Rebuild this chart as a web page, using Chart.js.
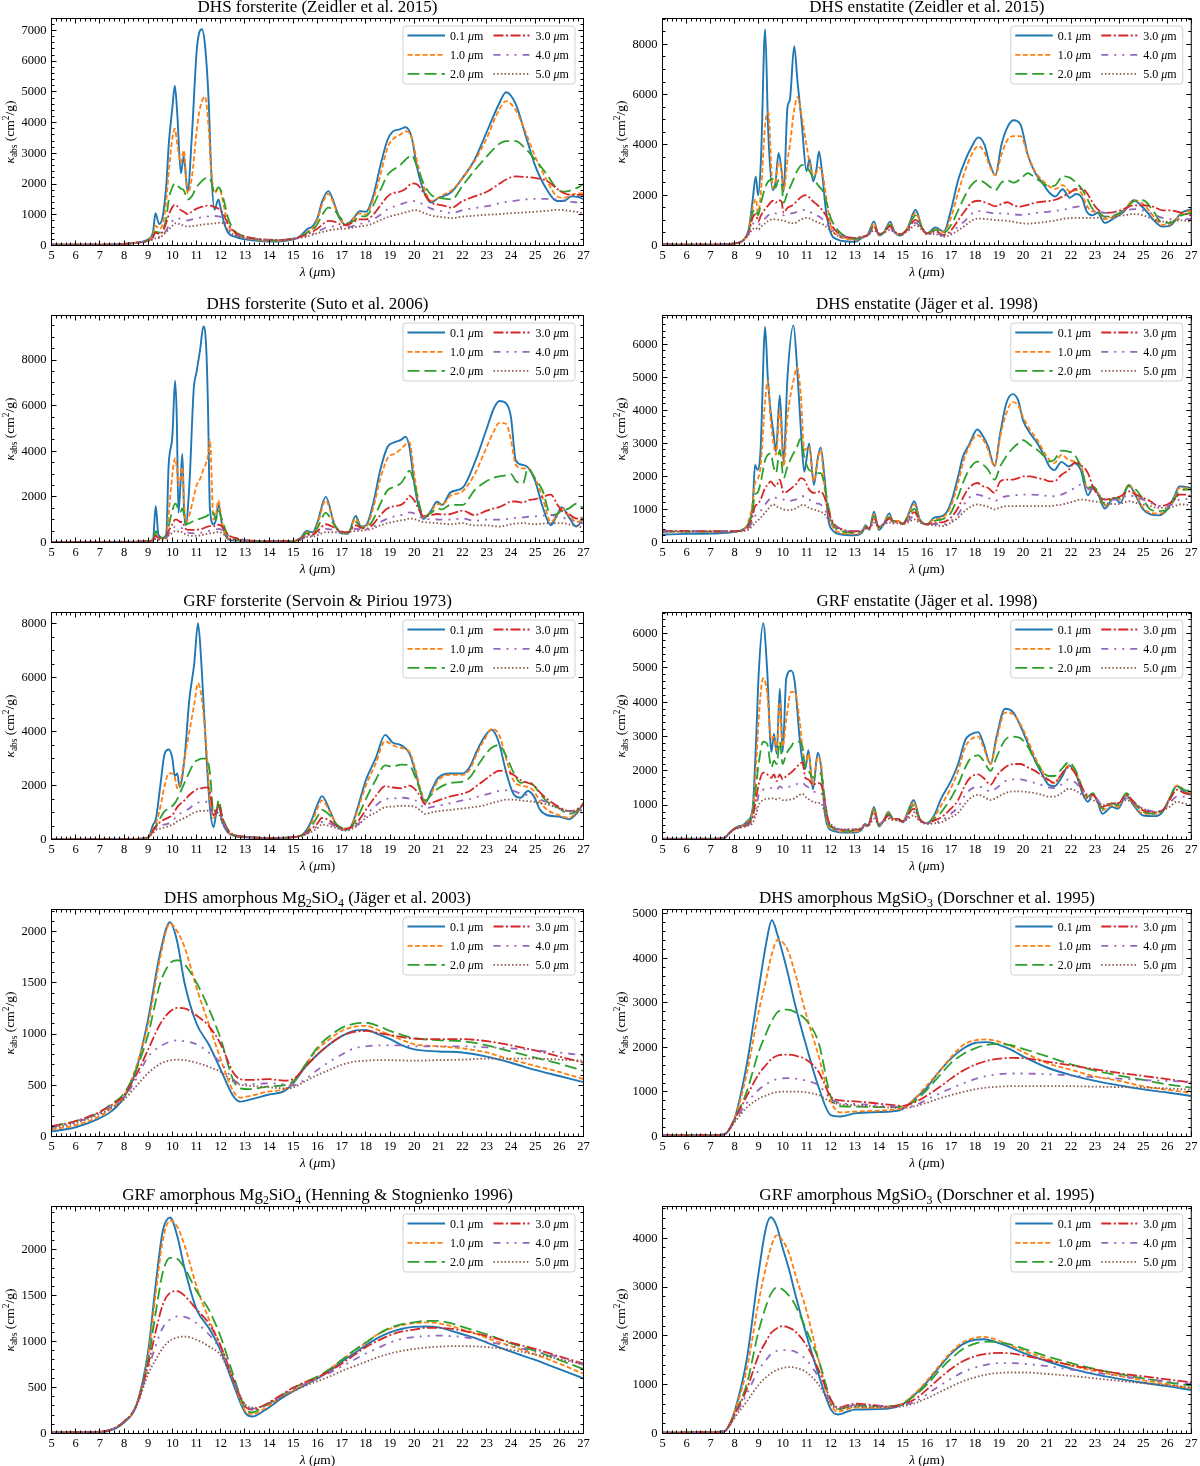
<!DOCTYPE html>
<html><head><meta charset="utf-8">
<script src="https://cdn.jsdelivr.net/npm/chart.js@4/dist/chart.umd.min.js"></script>
<style>
html,body{margin:0;padding:0;background:#fff;}
body{width:1200px;height:1466px;position:relative;overflow:hidden;}
canvas{position:absolute;}
</style></head><body>
<script>
// ---------- DATA ----------
const SIZE_LABELS = ['0.1', '1.0', '2.0', '3.0', '4.0', '5.0'];
const TITLES = [
  'DHS forsterite (Zeidler et al. 2015)',
  'DHS enstatite (Zeidler et al. 2015)',
  'DHS forsterite (Suto et al. 2006)',
  'DHS enstatite (Jäger et al. 1998)',
  'GRF forsterite (Servoin & Piriou 1973)',
  'GRF enstatite (Jäger et al. 1998)',
  'DHS amorphous Mg_2SiO_4 (Jäger et al. 2003)',
  'DHS amorphous MgSiO_3 (Dorschner et al. 1995)',
  'GRF amorphous Mg_2SiO_4 (Henning & Stognienko 1996)',
  'GRF amorphous MgSiO_3 (Dorschner et al. 1995)'
];
const X_TICKS = [5,6,7,8,9,10,11,12,13,14,15,16,17,18,19,20,21,22,23,24,25,26,27];
const Y_TICKS = [
  [0,1000,2000,3000,4000,5000,6000,7000],
  [0,2000,4000,6000,8000],
  [0,2000,4000,6000,8000],
  [0,1000,2000,3000,4000,5000,6000],
  [0,2000,4000,6000,8000],
  [0,1000,2000,3000,4000,5000,6000],
  [0,500,1000,1500,2000],
  [0,1000,2000,3000,4000,5000],
  [0,500,1000,1500,2000],
  [0,1000,2000,3000,4000]
];
const Y_MAX = [7390, 9030, 9960, 6870, 8420, 6615, 2215, 5100, 2470, 4650];

// Panel 1: DHS forsterite (Zeidler 2015)
const P1_WL = [5,6,7,7.5,8,8.5,9.0,9.2,9.3,9.45,9.6,9.75,9.85,10.0,10.1,10.2,10.35,10.47,10.63,10.8,11.0,11.1,11.22,11.35,11.5,11.6,11.74,11.9,12.0,12.15,12.3,12.6,13.0,13.5,14.0,14.5,15.0,15.3,15.6,15.8,16.0,16.2,16.45,16.7,16.9,17.2,17.5,17.75,18.0,18.3,18.6,18.9,19.1,19.4,19.65,19.9,20.1,20.4,20.7,21.0,21.2,21.55,22.0,22.5,23.0,23.5,23.8,24.2,24.6,25.0,25.5,25.9,26.2,26.5,26.8,27];
const P1_S01 = [30,25,25,30,50,90,200,450,1050,700,950,2000,3300,4500,5200,4300,2350,2900,1750,3500,6300,6900,7040,6500,4700,2500,1160,1500,1200,700,420,280,200,150,130,140,200,320,550,620,900,1450,1770,1350,900,670,900,1120,1100,1600,2600,3450,3700,3780,3850,3500,2600,1750,1400,1550,1600,1750,2200,2800,3700,4600,4990,4600,3600,2600,1800,1450,1450,1600,1580,1500];
const P1_S10 = [30,25,25,30,50,90,180,350,650,550,700,1500,2400,3500,3800,3300,2700,3100,1700,2200,3700,4300,4700,4850,3800,2500,1700,1850,1750,1200,700,400,260,180,150,160,210,300,450,550,850,1350,1680,1300,900,700,880,1050,1000,1500,2300,3200,3450,3600,3720,3500,2800,1900,1450,1550,1650,1800,2200,2750,3500,4400,4700,4400,3700,2900,2100,1600,1550,1650,1700,1700];
const P1_S20 = [30,25,25,30,50,90,170,300,450,420,500,900,1500,1900,2020,1950,1850,1800,1500,1600,1900,2000,2100,2180,2200,2100,1700,1900,1800,1400,900,450,290,200,170,170,220,290,430,500,700,1000,1230,1150,950,720,800,950,950,1300,1800,2300,2450,2600,2800,2940,2600,2000,1650,1560,1530,1500,1950,2450,2900,3300,3400,3400,3150,2800,2300,1850,1750,1800,1900,2000];
const P1_S30 = [30,25,25,30,50,90,160,270,420,380,450,750,1000,1250,1330,1280,1150,1100,1020,1100,1200,1230,1260,1290,1300,1300,1250,1200,1150,950,700,420,300,220,190,180,220,280,380,450,550,680,800,780,700,660,780,850,850,1000,1300,1600,1700,1750,1850,2020,2000,1700,1400,1330,1300,1230,1450,1600,1750,2000,2150,2250,2230,2200,2100,1850,1700,1650,1650,1650];
const P1_S40 = [30,25,25,30,50,90,150,230,280,280,350,500,650,800,870,880,870,860,820,850,880,900,920,940,950,960,960,950,930,800,550,350,260,200,180,180,210,260,320,380,450,530,610,620,610,600,640,700,750,850,1000,1180,1250,1330,1400,1450,1430,1330,1200,1140,1100,1060,1150,1220,1280,1370,1420,1460,1500,1520,1520,1500,1470,1420,1400,1380];
const P1_S50 = [30,25,25,30,50,90,140,200,230,250,330,450,520,650,720,720,680,650,620,630,650,660,680,690,700,710,720,740,750,680,500,330,240,200,180,180,210,250,300,350,400,440,490,520,540,550,590,620,650,720,830,920,970,1030,1080,1140,1150,1060,980,940,920,890,940,970,1000,1020,1040,1060,1080,1100,1130,1160,1150,1120,1080,1040];

// Panel 2: DHS enstatite (Zeidler 2015)
const P2_WL = [5,7,8,8.4,8.6,8.75,8.88,8.98,9.1,9.27,9.4,9.59,9.7,9.83,9.95,10.04,10.2,10.3,10.48,10.62,10.8,10.99,11.12,11.27,11.4,11.51,11.65,11.8,12.0,12.3,12.7,13.0,13.3,13.55,13.8,14.0,14.2,14.47,14.65,14.9,15.2,15.53,15.8,16.0,16.36,16.7,17.0,17.3,17.6,17.85,18.14,18.4,18.6,18.85,19.1,19.35,19.6,19.9,20.2,20.5,20.8,21.1,21.35,21.65,21.95,22.2,22.45,22.65,22.9,23.1,23.4,23.8,24.2,24.6,25.0,25.4,25.8,26.1,26.6,27];
const P2_S01 = [40,30,80,250,700,1800,2750,2000,3500,8600,4500,2200,2500,3680,3000,2150,5500,5800,7930,6500,4800,2950,3440,2550,3000,3740,2800,1400,500,230,160,150,300,450,960,400,500,950,550,400,700,1420,700,480,720,550,1400,2600,3400,3900,4300,4000,3300,2800,4000,4700,4980,4800,3600,2900,2500,2100,1950,2240,1900,2050,1900,1350,1200,1300,900,1100,1350,1800,1500,1050,750,780,1300,1450];
const P2_S10 = [40,30,80,250,650,1500,1850,1300,2200,4800,5300,2300,2500,3300,3000,2200,3400,4000,5400,5900,5100,4000,3300,2800,2900,3100,2900,2000,800,400,250,220,320,450,880,420,500,880,560,420,700,1300,700,480,650,530,1100,2100,3000,3600,3950,3700,3200,2800,3600,4200,4350,4350,3600,2950,2600,2350,2250,2400,2150,2200,2050,1600,1350,1350,1050,1150,1400,1800,1650,1200,820,850,1250,1400];
const P2_S20 = [40,30,80,250,600,1300,1450,1200,1700,2300,2550,2650,2300,2600,2500,1700,2100,2300,2700,3000,3200,3150,2950,2700,2500,2350,2200,1800,1100,600,320,260,330,430,800,450,520,820,560,430,680,1200,700,480,620,500,800,1400,2000,2400,2600,2500,2350,2200,2500,2600,2500,2650,2880,2700,2500,2350,2400,2750,2700,2500,2250,1900,1450,1350,1150,1200,1400,1750,1800,1400,900,900,1200,1300];
const P2_S30 = [40,30,80,250,550,1100,1250,950,1200,1450,1600,1780,1700,1800,1750,1300,1500,1550,1650,1800,1950,2000,1900,1750,1650,1550,1400,1200,850,500,330,300,350,420,750,470,520,760,560,450,650,1020,680,480,560,420,600,1000,1400,1700,1780,1720,1650,1560,1650,1720,1600,1550,1620,1700,1740,1770,1820,1950,2100,2250,2250,2100,1700,1450,1300,1330,1450,1600,1600,1550,1400,1400,1300,1200];
const P2_S40 = [40,30,80,240,500,850,900,800,950,1080,1200,1300,1280,1250,1230,1200,1250,1270,1300,1350,1400,1420,1350,1250,1200,1150,1050,900,700,450,320,300,350,420,650,480,520,680,540,450,600,900,650,460,500,380,500,750,1000,1250,1370,1340,1310,1270,1280,1270,1240,1220,1240,1290,1320,1350,1380,1420,1480,1540,1560,1500,1400,1350,1300,1320,1380,1450,1400,1250,1100,1050,1050,1050];
const P2_S50 = [40,30,80,230,450,650,700,620,750,880,980,1050,1040,1020,1000,990,930,900,880,950,1050,1100,1080,1000,950,900,850,750,600,380,300,290,340,400,600,480,500,620,520,440,570,800,620,450,450,350,430,600,800,980,1070,1060,1040,1010,1000,980,940,890,870,890,920,960,1000,1060,1090,1100,1100,1100,1100,1110,1130,1160,1200,1250,1200,1050,950,950,1000,950];

// Panel 3: DHS forsterite (Suto 2006)
const P3_WL = [5,7,8.5,9.0,9.2,9.31,9.42,9.6,9.75,9.84,10.0,10.11,10.18,10.25,10.33,10.41,10.48,10.55,10.7,10.88,11.0,11.15,11.28,11.4,11.47,11.55,11.7,11.8,11.9,12.05,12.3,12.6,13.0,14.0,15.0,15.3,15.55,15.8,16.0,16.34,16.7,17.0,17.25,17.58,17.8,18.0,18.3,18.6,18.9,19.2,19.45,19.64,19.8,20.0,20.2,20.38,20.7,20.94,21.15,21.5,22.0,22.5,23.0,23.3,23.52,23.8,24.0,24.2,24.5,24.7,25.0,25.3,25.65,25.9,26.1,26.4,26.7,27];
const P3_S01 = [20,20,30,60,150,1600,350,200,400,3300,4700,7100,5500,1300,2500,3880,1500,760,2500,6700,7500,8500,9480,8500,6000,1500,800,1000,1700,800,150,80,60,40,60,200,510,450,900,2000,800,400,380,1160,700,750,1700,3200,4200,4400,4500,4640,4200,2600,1500,1030,1400,1790,1650,2200,2400,3500,5000,5900,6210,6100,5500,3600,3400,3300,2700,1600,760,1200,1550,1100,700,1050];
const P3_S10 = [20,20,30,60,120,350,200,180,300,1200,3000,3700,3300,2500,2800,3300,1800,900,1200,2000,2500,2800,3200,3500,3800,4500,1000,1200,1850,900,200,100,70,40,60,180,450,400,800,1850,800,420,400,1050,700,700,1500,2800,3700,3900,4100,4300,4400,3000,1700,1100,1350,1700,1650,2050,2250,3000,4200,4900,5250,5200,4500,3400,3250,3250,2800,2000,900,1200,1500,1200,900,1000];
const P3_S20 = [20,20,30,60,110,500,250,200,300,700,1400,1700,1650,1400,1350,1500,1200,800,850,950,1000,1050,1100,1150,1200,1350,1300,1000,1400,1000,300,150,90,50,60,170,400,380,650,1300,750,450,420,900,680,650,1000,1700,2300,2450,2600,2900,3150,2600,1700,1150,1300,1500,1450,1650,1650,2300,2700,2850,2900,2950,3000,2700,2600,3250,2800,2300,1200,1250,1400,1500,1700,1500];
const P3_S30 = [20,20,30,60,100,300,200,180,250,500,800,1000,1000,950,900,900,750,600,550,550,560,580,620,680,700,720,730,700,780,700,350,200,110,60,70,150,330,340,500,800,650,480,450,750,650,600,800,1200,1500,1600,1650,1800,2050,1850,1450,1150,1200,1250,1230,1250,1400,1200,1400,1500,1550,1700,1800,1800,1750,1850,1900,2000,2100,1700,1400,1250,1050,1100];
const P3_S40 = [20,20,30,60,90,200,150,150,200,350,550,700,700,680,650,620,550,480,420,400,400,420,450,480,500,520,540,560,600,550,250,150,100,60,70,130,280,300,400,600,550,480,470,600,580,580,700,900,1050,1150,1200,1250,1320,1280,1150,1050,1020,1010,1000,1000,1050,950,1000,1000,1000,1030,1050,1080,1100,1130,1150,1180,1200,1150,1100,1000,900,850];
const P3_S50 = [20,20,30,60,80,150,120,120,180,300,420,500,500,480,470,450,400,350,300,290,290,310,340,370,390,400,420,440,460,420,200,130,90,60,70,120,240,260,320,450,450,450,460,500,520,540,620,750,850,920,970,1000,1050,1030,960,900,870,850,830,800,850,750,750,720,700,750,800,830,850,830,800,830,850,850,850,800,720,650];

// Panel 4: DHS enstatite (Jäger 1998)
const P4_WL = [5,6,7,8,8.4,8.6,8.75,8.85,8.95,9.08,9.27,9.38,9.5,9.62,9.72,9.88,10.04,10.2,10.45,10.6,10.75,10.9,11.1,11.3,11.45,11.58,11.75,11.9,12.1,12.4,13.0,13.3,13.45,13.6,13.8,14.0,14.2,14.43,14.6,14.8,15.0,15.2,15.48,15.7,16.0,16.3,16.7,17.0,17.3,17.5,17.75,18.1,18.35,18.55,18.82,19.05,19.3,19.57,19.8,20.0,20.3,20.6,20.9,21.1,21.3,21.6,21.9,22.15,22.4,22.7,22.9,23.1,23.4,23.8,24.05,24.4,24.7,25.0,25.3,25.65,26.0,26.3,26.5,26.75,27];
const P4_S01 = [240,260,270,320,420,600,1100,2350,2200,2800,6520,5000,3960,3300,2750,4460,2440,5000,6570,5300,3500,2140,3000,1740,2500,2880,1900,700,350,250,220,300,520,380,930,380,550,880,650,650,550,800,1250,700,550,750,820,1200,2000,2600,2950,3420,3200,2900,2320,3300,4200,4490,4300,3700,3300,3000,2600,2300,2190,2440,2300,2400,2200,1430,1650,1500,1030,1350,1200,1740,1400,1000,850,820,1000,1400,1700,1680,1650];
const P4_S10 = [330,330,330,340,400,700,1200,1800,1900,2300,4300,4900,3700,3000,2650,4000,2300,3800,4900,5300,4500,2800,2900,1850,2500,2800,1600,900,450,300,260,320,500,400,860,420,560,820,650,650,560,780,1150,700,550,700,780,1100,1800,2400,2900,3250,3100,2800,2300,3200,3900,4250,4150,3800,3400,3100,2700,2500,2400,2650,2500,2450,2350,1600,1700,1550,1100,1350,1300,1750,1450,1050,900,870,1000,1350,1650,1650,1600];
const P4_S20 = [330,330,330,340,400,600,1000,1450,1500,1800,2500,2650,2700,2300,2100,2800,1950,2300,2700,2900,3150,2600,2200,2150,2100,2100,1700,1100,550,350,300,340,480,420,800,450,560,770,650,640,570,750,1020,690,550,650,720,900,1400,1800,2200,2450,2350,2200,1900,2300,2600,2850,3000,3100,2950,2800,2600,2450,2500,2780,2750,2650,2300,1650,1700,1550,1150,1350,1350,1700,1600,1300,1000,950,1000,1300,1550,1600,1600];
const P4_S30 = [350,350,340,340,380,500,800,1100,1150,1300,1650,1750,1850,1750,1700,1900,1500,1550,1700,1800,1950,1900,1600,1500,1520,1550,1350,950,600,420,340,360,450,430,750,480,560,720,630,620,570,700,920,670,550,600,620,750,1050,1350,1650,1800,1700,1650,1500,1850,1900,1900,1950,2000,2000,1950,1900,1850,1850,2050,2200,2420,2350,2100,1700,1450,1300,1350,1400,1550,1450,1350,1250,1100,1150,1300,1450,1450,1400];
const P4_S40 = [340,340,340,340,370,450,650,800,850,950,1150,1250,1350,1380,1350,1320,1300,1250,1280,1320,1400,1400,1300,1200,1180,1150,1000,800,550,400,340,360,430,430,670,480,550,660,600,600,560,650,800,630,550,560,550,650,850,1100,1350,1450,1400,1350,1250,1350,1400,1420,1440,1450,1450,1440,1420,1400,1400,1450,1550,1650,1750,1650,1550,1450,1320,1300,1320,1450,1350,1300,1200,1100,1100,1200,1300,1320,1300];
const P4_S50 = [330,330,330,330,350,400,500,600,650,750,900,1000,1100,1150,1100,1050,1000,980,1000,1050,1130,1130,1050,1000,960,930,850,700,520,400,330,350,420,420,600,480,540,610,580,580,550,600,700,600,540,520,500,600,750,900,1050,1150,1120,1080,1000,1060,1100,1100,1100,1100,1100,1100,1100,1100,1120,1150,1200,1250,1300,1280,1250,1230,1200,1160,1170,1250,1200,1150,1100,1050,1050,1100,1150,1150,1100];

// Panel 5: GRF forsterite (Servoin & Piriou 1973)
const P5_WL = [5,7,8.5,9.0,9.2,9.32,9.5,9.68,9.85,10.0,10.1,10.2,10.3,10.5,10.7,10.9,11.06,11.2,11.4,11.55,11.7,11.82,11.92,12.05,12.3,12.6,13.0,14.0,15.0,15.4,15.7,16.0,16.18,16.5,16.8,17.13,17.4,17.7,18.0,18.4,18.8,19.1,19.45,19.8,20.05,20.25,20.46,20.7,21.0,21.5,22.0,22.3,22.6,22.9,23.2,23.5,23.8,24.1,24.4,24.7,24.95,25.2,25.5,26.0,26.4,26.7,27];
const P5_S01 = [10,10,20,80,550,780,2000,3180,3340,3000,2350,2450,1950,3000,5200,6500,8020,6500,3200,1200,460,1000,1260,700,250,120,80,50,80,200,600,1300,1610,1100,500,360,500,1300,2200,3000,3880,3600,3500,3200,2500,1800,1360,1800,2300,2450,2450,2700,3300,3800,4070,3600,2500,1700,1550,1800,1600,1100,900,850,750,950,1350];
const P5_S10 = [10,10,20,80,400,600,1200,2000,2450,2450,2300,1900,2000,3000,4000,5000,5800,5300,3500,1500,800,1050,1300,850,300,130,90,55,85,190,500,1150,1450,1050,550,380,500,1200,2000,2800,3650,3500,3400,3250,2600,1900,1400,1700,2200,2400,2400,2600,3200,3700,4100,3900,3000,2200,2000,1950,1800,1400,1100,900,800,1000,1350];
const P5_S20 = [10,10,20,80,350,500,800,1050,1150,1250,1350,1500,1700,2100,2500,2850,2950,3000,3000,2500,1000,1100,1450,900,350,150,100,60,90,180,420,850,1100,900,550,400,480,900,1500,2200,2750,2700,2780,2750,2300,1800,1450,1650,1900,2100,2150,2300,2700,3100,3400,3500,3100,2500,2100,2150,2000,1700,1400,1150,950,1050,1350];
const P5_S30 = [10,10,20,80,320,480,650,750,820,900,1050,1200,1300,1450,1650,1800,1880,1900,1930,1800,900,1050,1300,850,350,160,100,60,90,170,350,600,800,700,500,400,450,700,1100,1600,1980,1930,1900,2000,1850,1600,1300,1350,1450,1600,1700,1800,2000,2200,2400,2550,2520,2400,2200,2100,2000,1750,1500,1200,1050,1100,1300];
const P5_S40 = [10,10,20,80,280,400,500,560,600,700,780,880,950,1050,1150,1300,1370,1400,1400,1300,900,950,1050,750,300,150,100,60,90,160,300,500,650,600,450,350,400,600,900,1250,1500,1520,1550,1520,1450,1300,1150,1200,1250,1350,1450,1500,1580,1650,1720,1800,1820,1800,1700,1650,1580,1480,1380,1150,1050,1050,1100];
const P5_S50 = [10,10,20,80,250,350,400,450,500,550,600,680,720,800,900,1000,1050,1060,1070,1080,1100,1000,950,650,300,150,100,60,90,150,260,420,550,500,420,330,380,550,800,1000,1200,1220,1250,1250,1200,1080,950,1000,1050,1100,1150,1180,1220,1270,1350,1420,1480,1480,1450,1420,1400,1350,1300,1150,1050,1000,1000];

// Panel 6: GRF enstatite (Jäger 1998)
const P6_WL = [5,7,7.55,7.8,8.0,8.15,8.35,8.55,8.75,8.9,9.0,9.19,9.35,9.53,9.64,9.75,9.88,10.0,10.15,10.35,10.5,10.7,10.82,10.94,11.07,11.26,11.46,11.6,11.75,11.9,12.1,12.5,13.0,13.3,13.42,13.55,13.8,14.0,14.2,14.4,14.6,14.8,15.0,15.2,15.45,15.7,16.0,16.3,16.6,17.0,17.3,17.6,17.8,18.14,18.35,18.65,18.9,19.25,19.6,19.9,20.2,20.5,20.8,21.05,21.3,21.6,21.9,22.2,22.5,22.7,22.9,23.1,23.3,23.7,23.95,24.3,24.6,25.0,25.5,25.8,26.1,26.4,26.7,27];
const P6_S01 = [20,20,40,200,320,380,420,550,900,3000,4800,6300,5000,2550,3080,2500,4400,2550,4700,4920,4600,3000,2300,2060,2600,1460,2530,2100,800,350,250,200,200,300,450,400,950,380,550,800,600,600,500,800,1150,600,480,700,1200,1700,2200,2900,3050,3130,2800,2200,3000,3810,3700,3300,2800,2300,1900,1600,1550,1800,2160,1900,1300,1100,1300,1100,750,950,900,1280,1000,700,680,800,1200,1560,1400,1300];
const P6_S10 = [20,20,40,200,320,370,400,520,800,2200,3500,4700,4300,2900,3000,2600,4000,2700,3500,4300,4300,3500,2700,2200,2500,1600,2400,2200,1000,400,300,230,230,320,450,410,900,400,550,780,600,600,520,780,1080,600,480,650,1000,1500,2000,2700,2900,3000,2700,2200,2900,3700,3650,3350,2900,2400,2000,1700,1650,1900,2150,1950,1400,1200,1300,1150,850,1000,950,1300,1050,750,750,820,1200,1580,1450,1350];
const P6_S20 = [20,20,40,200,320,360,390,480,750,1600,2200,2850,2800,2100,2300,2200,2850,2200,2500,2700,2850,2850,2700,2100,2000,1800,1950,1900,1200,500,330,250,250,330,440,410,850,420,550,750,600,600,530,750,1000,600,480,600,800,1200,1600,2100,2350,2450,2300,2000,2400,2900,3000,2950,2700,2300,2000,1850,1850,2050,2250,2000,1450,1250,1350,1150,900,1050,1000,1350,1100,800,750,820,1200,1550,1450,1400];
const P6_S30 = [20,20,40,200,310,350,380,450,650,1200,1600,1950,1900,1800,1900,1700,1900,1750,1850,1950,2050,2200,2250,1800,1750,1600,1650,1600,1100,550,350,280,280,340,430,410,800,440,550,700,600,590,530,700,900,580,480,550,650,900,1150,1600,1800,1900,1800,1600,1850,2100,2200,2200,2100,2000,1850,1750,1650,1900,2100,1900,1450,1300,1300,1150,950,1050,1050,1300,1100,850,800,850,1150,1450,1350,1300];
const P6_S40 = [20,20,40,200,310,340,370,420,550,900,1300,1450,1480,1500,1500,1450,1550,1500,1520,1550,1580,1650,1650,1580,1520,1400,1380,1350,1000,550,350,290,300,340,420,400,700,450,540,650,580,570,520,650,800,560,470,500,550,750,950,1300,1450,1550,1500,1400,1500,1700,1750,1750,1700,1650,1580,1520,1500,1600,1750,1650,1400,1300,1250,1150,1000,1050,1050,1200,1050,900,820,850,1050,1250,1250,1200];
const P6_S50 = [20,20,40,200,300,330,360,400,480,750,1000,1150,1180,1200,1200,1170,1200,1150,1150,1170,1200,1300,1330,1250,1180,1100,1070,1050,800,550,380,300,300,340,400,390,600,450,520,600,560,550,510,600,700,540,450,470,500,650,780,1050,1200,1300,1250,1150,1220,1350,1400,1400,1380,1350,1300,1250,1250,1350,1480,1420,1280,1200,1150,1080,1000,1050,1050,1150,1050,900,800,850,950,1100,1050,1000];

// Panel 7: DHS amorphous Mg2SiO4 (Jäger 2003)
const P7_WL = [5,6,7,7.5,8,8.5,9,9.5,9.9,10.2,10.5,11,11.5,12,12.5,12.8,13.2,14,14.6,15,15.5,16,16.5,17,17.5,18,18.5,19,19.5,20,21,22,23,24,25,26,27];
const P7_S01 = [50,90,180,250,380,650,1150,1800,2090,1900,1500,1100,900,650,400,340,360,410,440,520,680,800,900,980,1030,1040,1000,950,890,850,830,820,780,720,650,590,530];
const P7_S10 = [70,110,200,280,400,680,1100,1750,2080,2000,1850,1450,1100,750,450,380,395,440,460,530,700,850,950,1030,1070,1080,1040,990,940,900,880,860,820,750,690,630,560];
const P7_S20 = [100,150,240,320,420,650,1000,1500,1690,1720,1680,1500,1250,950,560,470,462,490,500,540,700,870,980,1060,1100,1110,1080,1030,990,960,940,930,890,830,770,710,640];
const P7_S30 = [100,150,240,310,400,600,850,1100,1220,1255,1250,1180,1080,900,630,560,552,560,545,560,680,800,900,980,1020,1030,1010,990,970,955,950,950,930,890,840,780,720];
const P7_S40 = [90,140,230,300,380,560,780,880,925,938,930,900,820,720,560,515,510,520,510,500,560,650,730,800,860,880,890,890,890,880,880,880,870,860,840,820,790];
const P7_S50 = [80,130,220,280,360,490,620,710,742,750,745,720,680,630,540,505,495,480,470,480,540,600,650,700,730,740,745,745,742,740,745,750,760,760,760,750,740];

// Panel 8: DHS amorphous MgSiO3 (Dorschner 1995)
const P8_WL = [5,6,7,7.5,7.7,8,8.5,9,9.3,9.55,9.8,10.2,10.5,11,11.5,12,12.4,13,14,14.5,15,15.5,16,16.5,17,17.5,18,18.5,19,19.5,20,21,22,23,24,25,26,27];
const P8_S01 = [20,20,25,40,100,400,1600,3300,4300,4860,4500,3700,3000,2000,1100,480,450,520,550,560,620,850,1100,1450,1750,1970,2100,2120,2060,1950,1800,1550,1380,1250,1150,1060,990,910];
const P8_S10 = [30,30,30,40,100,400,1400,2800,3500,4100,4420,4200,3700,2700,1800,800,540,560,580,600,640,850,1150,1450,1780,2050,2160,2180,2130,2030,1900,1650,1500,1350,1250,1130,1050,980];
const P8_S20 = [30,30,30,40,100,400,1000,1900,2300,2600,2800,2850,2800,2600,2100,900,680,670,660,660,680,800,1050,1350,1650,1850,1980,2060,2080,2050,1970,1800,1620,1480,1370,1270,1170,1100];
const P8_S30 = [30,30,30,40,100,380,900,1400,1600,1750,1820,1840,1820,1720,1450,900,810,790,740,710,690,770,920,1100,1300,1480,1610,1700,1750,1765,1760,1680,1600,1510,1430,1360,1290,1210];
const P8_S40 = [30,30,30,40,100,350,750,1050,1170,1250,1290,1310,1300,1250,1150,850,750,730,700,680,650,700,830,960,1080,1190,1290,1360,1400,1415,1415,1400,1370,1330,1300,1270,1250,1230];
const P8_S50 = [30,30,30,40,100,320,650,850,920,970,1000,1010,1010,990,930,780,725,700,670,650,640,680,760,850,930,1000,1060,1100,1120,1130,1130,1130,1130,1120,1110,1100,1080,1050];

// Panel 9: GRF amorphous Mg2SiO4 (Henning & Stognienko 1996)
const P9_WL = [5,6,7,7.5,8,8.5,9,9.3,9.6,9.9,10.2,10.5,11,11.5,12,12.5,13,13.3,13.8,14.5,15,15.5,16,16.5,17,17.5,18,18.5,19,19.5,20,20.5,21,21.5,22,22.5,23,24,25,26,27];
const P9_S01 = [10,12,15,40,120,300,900,1600,2200,2350,2150,1800,1350,1150,900,550,230,185,250,380,460,530,600,680,780,870,960,1040,1100,1140,1160,1165,1155,1120,1080,1040,990,890,800,700,600];
const P9_S10 = [10,15,20,45,130,300,850,1500,2100,2320,2250,2050,1600,1250,950,600,250,210,270,400,470,540,610,700,800,900,990,1080,1140,1180,1200,1210,1200,1170,1130,1090,1040,950,860,760,650];
const P9_S20 = [10,15,20,45,130,300,800,1300,1750,1910,1900,1800,1550,1350,1050,650,280,230,300,410,490,560,620,700,800,900,990,1080,1150,1190,1210,1225,1225,1200,1160,1120,1080,980,900,800,700];
const P9_S30 = [10,15,20,45,130,300,750,1100,1400,1530,1550,1500,1350,1200,950,600,300,260,310,420,500,560,610,680,760,850,940,1010,1070,1110,1130,1150,1150,1140,1120,1090,1060,990,920,840,760];
const P9_S40 = [10,15,20,45,130,300,700,950,1150,1240,1275,1270,1200,1080,900,600,320,270,300,400,480,540,600,660,730,800,870,930,990,1030,1050,1060,1065,1060,1050,1030,1000,950,890,830,750];
const P9_S50 = [10,15,20,45,130,290,650,800,930,1010,1045,1055,1020,950,850,580,320,280,300,390,460,520,570,620,680,730,780,830,870,900,920,935,945,950,950,948,940,910,860,810,750];

// Panel 10: GRF amorphous MgSiO3 (Dorschner 1995)
const P10_WL = [5,6,6.5,7,7.5,7.6,7.8,8,8.5,9,9.3,9.5,9.75,10,10.3,10.5,11,11.5,12,12.3,12.7,13,14,14.5,15,15.5,16,16.5,17,17.5,18,18.4,19,19.5,20,21,22,23,24,25,26,27];
const P10_S01 = [15,20,30,25,40,50,200,450,1500,3300,4200,4430,4250,3800,3300,2900,2000,1200,500,390,450,490,500,520,600,800,1050,1350,1630,1830,1920,1930,1850,1760,1650,1480,1330,1210,1120,1040,970,890];
const P10_S10 = [15,20,30,25,40,50,200,450,1300,2700,3400,3800,4060,3950,3650,3300,2500,1500,600,450,500,530,530,550,620,820,1080,1380,1660,1870,1960,1980,1900,1800,1700,1530,1390,1280,1180,1090,1010,920];
const P10_S20 = [15,20,30,25,40,50,190,400,1000,2100,2600,2850,2990,2950,2800,2650,2100,1500,700,500,540,570,560,560,610,780,1000,1280,1530,1730,1840,1880,1870,1820,1740,1580,1440,1320,1220,1130,1050,980];
const P10_S30 = [15,20,30,25,40,50,180,380,900,1600,1880,2050,2150,2200,2160,2100,1800,1300,700,530,580,610,570,550,600,700,900,1120,1320,1480,1580,1625,1650,1640,1600,1500,1400,1310,1230,1170,1110,1050];
const P10_S40 = [15,20,30,25,40,50,170,350,800,1300,1500,1620,1690,1710,1700,1680,1500,1150,650,520,560,580,560,540,580,650,800,970,1120,1260,1350,1400,1440,1440,1430,1380,1310,1240,1180,1120,1070,1020];
const P10_S50 = [15,20,30,25,40,50,160,320,650,1000,1150,1230,1300,1340,1360,1350,1250,1000,600,500,530,550,540,530,560,620,720,840,960,1070,1150,1200,1240,1250,1250,1220,1180,1130,1080,1030,990,940];

const PANEL_WL = [P1_WL, P2_WL, P3_WL, P4_WL, P5_WL, P6_WL, P7_WL, P8_WL, P9_WL, P10_WL];
const PANEL_SERIES = [
  [P1_S01, P1_S10, P1_S20, P1_S30, P1_S40, P1_S50],
  [P2_S01, P2_S10, P2_S20, P2_S30, P2_S40, P2_S50],
  [P3_S01, P3_S10, P3_S20, P3_S30, P3_S40, P3_S50],
  [P4_S01, P4_S10, P4_S20, P4_S30, P4_S40, P4_S50],
  [P5_S01, P5_S10, P5_S20, P5_S30, P5_S40, P5_S50],
  [P6_S01, P6_S10, P6_S20, P6_S30, P6_S40, P6_S50],
  [P7_S01, P7_S10, P7_S20, P7_S30, P7_S40, P7_S50],
  [P8_S01, P8_S10, P8_S20, P8_S30, P8_S40, P8_S50],
  [P9_S01, P9_S10, P9_S20, P9_S30, P9_S40, P9_S50],
  [P10_S01, P10_S10, P10_S20, P10_S30, P10_S40, P10_S50]
];

// ---------- STYLE ----------
const FONT = '"Liberation Serif", "Times New Roman", serif';
const COLORS = ['#1f77b4', '#ff7f0e', '#2ca02c', '#d62728', '#9467bd', '#8c564b'];
const DASHES = [[], [5, 2.5], [12, 5], [10, 2.5, 2, 2.5], [7, 6, 2, 6, 2, 6], [1.5, 2.2]];
const WIDTHS = [1.9, 1.8, 1.8, 1.8, 1.8, 1.8];
const CW = 600, CH = 297;
const TOP = 18.5, BOTTOM = 245.5;
const COL_L = [51.5, 62.5], COL_R = [583.5, 594.5];
const TICK_FS = 12.5, TITLE_FS = 17, LABEL_FS = 13.5, LEG_FS = 12;

function segFont(s, size) {
  const sz = (s.sub || s.sup) ? size * 0.7 : size;
  return (s.it ? 'italic ' : '') + sz + 'px ' + FONT;
}
function richWidth(ctx, segs, size) {
  let w = 0;
  for (const s of segs) { ctx.font = segFont(s, size); w += ctx.measureText(s.t).width; }
  return w;
}
function drawRich(ctx, segs, x, y, size, align) {
  const w = richWidth(ctx, segs, size);
  let cx = align === 'center' ? x - w / 2 : (align === 'right' ? x - w : x);
  ctx.textAlign = 'left'; ctx.textBaseline = 'alphabetic'; ctx.fillStyle = '#000';
  for (const s of segs) {
    ctx.font = segFont(s, size);
    const dy = s.sub ? size * 0.22 : (s.sup ? -size * 0.38 : 0);
    ctx.fillText(s.t, cx, y + dy);
    cx += ctx.measureText(s.t).width;
  }
}
function parseSub(str) {
  const segs = []; let buf = '';
  for (let i = 0; i < str.length; i++) {
    if (str[i] === '_') { if (buf) segs.push({t: buf}); buf = ''; segs.push({t: str[i + 1], sub: true}); i++; }
    else buf += str[i];
  }
  if (buf) segs.push({t: buf});
  return segs;
}
const XLABEL = [{t: 'λ', it: true}, {t: ' ('}, {t: 'μ', it: true}, {t: 'm)'}];
const YLABEL = [{t: 'κ', it: true}, {t: 'abs', sub: true}, {t: ' (cm'}, {t: '2', sup: true}, {t: '/g)'}];

const decor = {
  id: 'decor',
  afterDatasetsDraw(chart, args, o) {
    const ctx = chart.ctx, a = chart.chartArea, xs = chart.scales.x, ys = chart.scales.y;
    ctx.save();
    ctx.setLineDash([]);
    ctx.strokeStyle = '#000'; ctx.lineWidth = 1;
    ctx.strokeRect(a.left, a.top, a.right - a.left, a.bottom - a.top);
    ctx.beginPath();
    const x0 = X_TICKS[0], x1 = X_TICKS[X_TICKS.length - 1];
    const nx = Math.round((x1 - x0) / 0.2);
    for (let i = 0; i <= nx; i++) {
      const v = x0 + i * 0.2;
      const px = Math.round(xs.getPixelForValue(v) - 0.5) + 0.5;
      const len = (i % 5 === 0) ? 5 : 3;
      ctx.moveTo(px, a.bottom); ctx.lineTo(px, a.bottom - len);
      ctx.moveTo(px, a.top); ctx.lineTo(px, a.top + len);
    }
    const yt = o.yticks, step = yt[1] - yt[0];
    const minor = step === 2000 ? 500 : step / 5;
    const ny = Math.floor(o.ymax / minor);
    for (let i = 0; i <= ny; i++) {
      const v = i * minor;
      const py = Math.round(ys.getPixelForValue(v) - 0.5) + 0.5;
      const len = (v % step === 0) ? 5 : 3;
      ctx.moveTo(a.left, py); ctx.lineTo(a.left + len, py);
      ctx.moveTo(a.right, py); ctx.lineTo(a.right - len, py);
    }
    ctx.stroke();
    ctx.restore();
  },
  afterDraw(chart, args, o) {
    const ctx = chart.ctx, a = chart.chartArea;
    ctx.save();
    drawRich(ctx, parseSub(o.title), (a.left + a.right) / 2, a.top - 6.5, TITLE_FS, 'center');
    drawRich(ctx, XLABEL, (a.left + a.right) / 2, a.bottom + 30, LABEL_FS, 'center');
    ctx.save();
    ctx.translate(a.left - 42, (a.top + a.bottom) / 2);
    ctx.rotate(-Math.PI / 2);
    drawRich(ctx, YLABEL, 0, 4.5, LABEL_FS, 'center');
    ctx.restore();
    // legend
    const R = a.right, T = a.top;
    const bx = R - 180.5, by = T + 7.5, bw = 172, bh = 58, r = 3;
    ctx.beginPath();
    ctx.moveTo(bx + r, by); ctx.lineTo(bx + bw - r, by); ctx.arcTo(bx + bw, by, bx + bw, by + r, r);
    ctx.lineTo(bx + bw, by + bh - r); ctx.arcTo(bx + bw, by + bh, bx + bw - r, by + bh, r);
    ctx.lineTo(bx + r, by + bh); ctx.arcTo(bx, by + bh, bx, by + bh - r, r);
    ctx.lineTo(bx, by + r); ctx.arcTo(bx, by, bx + r, by, r); ctx.closePath();
    ctx.fillStyle = 'rgba(255,255,255,0.8)'; ctx.fill();
    ctx.strokeStyle = '#d0d0d0'; ctx.lineWidth = 1; ctx.stroke();
    const rows = [17, 36.3, 55.3];
    chart.data.datasets.forEach((ds, k) => {
      const col = Math.floor(k / 3), row = k % 3;
      const yc = T + rows[row];
      const h0 = col ? R - 90 : R - 176, h1 = col ? R - 54 : R - 138.5, tx = col ? R - 48 : R - 133.5;
      ctx.beginPath();
      ctx.setLineDash(ds.borderDash); ctx.lineCap = 'butt';
      ctx.strokeStyle = ds.borderColor; ctx.lineWidth = ds.borderWidth;
      ctx.moveTo(h0, yc); ctx.lineTo(h1, yc); ctx.stroke();
      ctx.setLineDash([]);
      drawRich(ctx, [{t: SIZE_LABELS[k] + ' '}, {t: 'μ', it: true}, {t: 'm'}], tx, yc + 4, LEG_FS, 'left');
    });
    ctx.restore();
  }
};

for (let p = 0; p < 10; p++) {
  const col = p % 2, row = Math.floor(p / 2);
  const cv = document.createElement('canvas');
  cv.width = CW; cv.height = CH;
  cv.style.left = (col * CW) + 'px'; cv.style.top = (row * CH) + 'px';
  cv.style.width = CW + 'px'; cv.style.height = CH + 'px';
  document.body.appendChild(cv);
  const L = COL_L[col], R = COL_R[col];
  const wl = PANEL_WL[p];
  const datasets = PANEL_SERIES[p].map((vals, i) => ({
    label: SIZE_LABELS[i] + ' μm',
    data: wl.map((w, j) => ({x: w, y: vals[j]})),
    borderColor: COLORS[i], borderWidth: WIDTHS[i], borderDash: DASHES[i],
    borderCapStyle: 'butt', borderJoinStyle: 'round',
    pointRadius: 0, pointHoverRadius: 0, fill: false,
    cubicInterpolationMode: 'monotone', order: 5 - i
  }));
  const yt = Y_TICKS[p];
  new Chart(cv, {
    type: 'line',
    data: {datasets},
    options: {
      responsive: false, animation: false, devicePixelRatio: 1, events: [],
      layout: {padding: {top: TOP, right: CW - R, left: 0, bottom: 0}},
      scales: {
        x: {
          type: 'linear', min: X_TICKS[0], max: X_TICKS[X_TICKS.length - 1], bounds: 'data',
          grid: {display: false, drawTicks: false}, border: {display: false},
          ticks: {autoSkip: false, maxRotation: 0, minRotation: 0, padding: 2.5, color: '#000',
                  font: {family: FONT, size: TICK_FS}, callback: v => String(v)},
          afterBuildTicks: s => { s.ticks = X_TICKS.map(v => ({value: v})); },
          afterFit: s => { s.height = CH - BOTTOM; }
        },
        y: {
          type: 'linear', min: 0, max: Y_MAX[p], bounds: 'data',
          grid: {display: false, drawTicks: false}, border: {display: false},
          ticks: {autoSkip: false, padding: 5, color: '#000', font: {family: FONT, size: TICK_FS}, callback: v => String(v)},
          afterBuildTicks: s => { s.ticks = yt.map(v => ({value: v})); },
          afterFit: s => { s.width = L; }
        }
      },
      plugins: {
        legend: {display: false}, tooltip: {enabled: false}, title: {display: false},
        decor: {title: TITLES[p], ymax: Y_MAX[p], yticks: yt}
      }
    },
    plugins: [decor]
  });
}
</script>
</body></html>
